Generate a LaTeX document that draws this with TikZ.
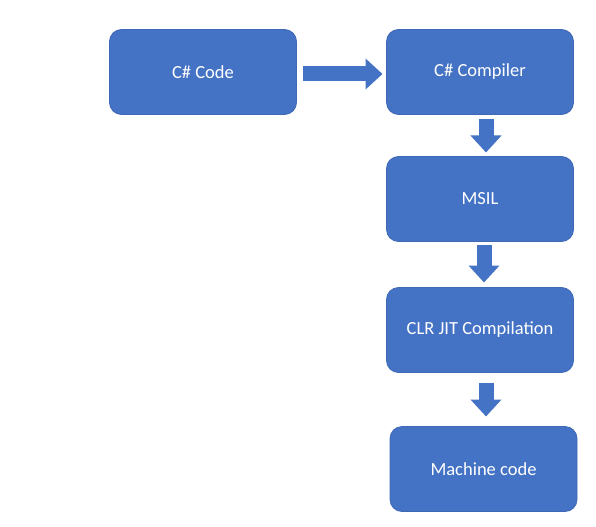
\documentclass[tikz,border=0pt]{standalone}
\usepackage{fontspec}
\setmainfont{Carlito}
\usetikzlibrary{positioning,arrows.meta}
\definecolor{boxblue}{HTML}{4472C4}
\definecolor{boxedge}{HTML}{3F69B5}
\tikzset{
	stage/.style={draw=boxedge, line width=0.8bp, fill=boxblue, rounded corners=12bp,
		minimum width=187bp, minimum height=85bp, inner sep=0pt, outer sep=0pt, text=white,
		font=\fontsize{18.5bp}{22bp}\selectfont},
	flow/.style={draw=boxblue, line width=15bp, -{Triangle[width=30bp,length=17bp]}}
}
\begin{document}
\begin{tikzpicture}[x=1bp,y=-1bp]
			%%%%% START %%%%%
			\useasboundingbox (0,0) rectangle (596,527);
			
			\node[stage] (code) at (203,72) {C\# Code};
			\node[stage, right=90bp of code] (compiler) {C\# Compiler};
			\node[stage, below=42bp of compiler] (msil) {MSIL};
			\node[stage, below=46bp of msil] (clr) {CLR JIT Compilation};
			\node[stage, below=54bp of clr, xshift=3.5bp] (machine) {Machine code};
			
			\draw[flow, shorten <=6bp, shorten >=4bp] ([yshift=-2bp]code.east) -- ([yshift=-2bp]compiler.west);
			\draw[flow, shorten <=5bp, shorten >=4bp] ([xshift=6bp]compiler.south) -- ([xshift=6bp]msil.north);
			\draw[flow, shorten <=3bp, shorten >=5bp] ([xshift=4bp]msil.south) -- ([xshift=4bp]clr.north);
			\draw[flow, shorten <=10bp, shorten >=10bp] ([xshift=6bp]clr.south) -- ([xshift=2.5bp]machine.north);
			
			%%%%% END %%%%%
\end{tikzpicture}
\end{document}
